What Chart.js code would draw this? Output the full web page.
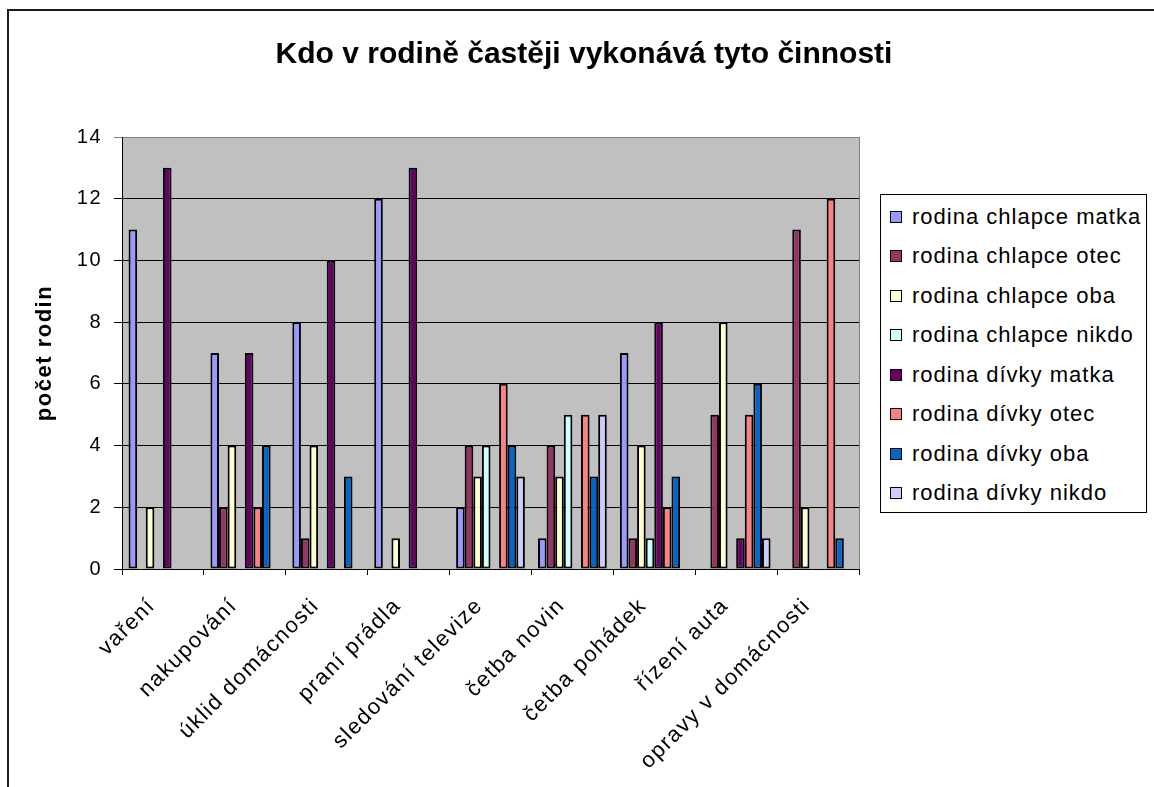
<!DOCTYPE html>
<html lang="cs">
<head>
<meta charset="utf-8">
<title>Kdo v rodině častěji vykonává tyto činnosti</title>
<script src="https://cdn.jsdelivr.net/npm/chart.js@4.4.1/dist/chart.umd.min.js"></script>
<style>
    html, body { margin: 0; padding: 0; background: #fff; overflow: hidden; }
    #wrap { position: relative; width: 1154px; height: 787px; overflow: hidden; font-family: "Liberation Sans", Arial, sans-serif; }
    #frame { position: absolute; left: 7px; top: 9px; width: 1300px; height: 900px; border: 2px solid #1a1a1a; }
    #chart { position: absolute; left: 0; top: 0; }
    #title { position: absolute; left: 0; top: 38px; width: 1168px; text-align: center; font-weight: bold; font-size: 30px; line-height: 30px; color: #000; white-space: nowrap; }
    #legend { position: absolute; left: 880px; top: 194px; width: 267px; height: 319px; box-sizing: border-box; border: 1px solid #000; background: #fff; padding: 2px 0 0 9px; }
    .item { height: 39.5px; display: flex; align-items: center; font-size: 22px; letter-spacing: 1px; color: #000; white-space: nowrap; }
    .swatch { width: 10px; height: 10px; border: 1px solid #000; margin-right: 10px; flex: none; }
</style>
</head>
<body>
<div id="wrap">
    <div id="frame"></div>
    <canvas id="chart" width="1154" height="787"></canvas>
    <div id="title">Kdo v rodině častěji vykonává tyto činnosti</div>
    <div id="legend"></div>
</div>
<script>
// data
const categories = ['vaření', 'nakupování', 'úklid domácnosti', 'praní prádla', 'sledování televize',
    'četba novin', 'četba pohádek', 'řízení auta', 'opravy v domácnosti'];

const seriesLabels = ['rodina chlapce matka', 'rodina chlapce otec', 'rodina chlapce oba', 'rodina chlapce nikdo',
    'rodina dívky matka', 'rodina dívky otec', 'rodina dívky oba', 'rodina dívky nikdo'];
const seriesColors = ['#9999FF', '#993366', '#FFFFCC', '#CCFFFF', '#660066', '#FF8080', '#0066CC', '#CCCCFF'];

const chlapceMatka = [11, 7, 8, 12, 2, 1, 7, 0, 0];
const chlapceOtec  = [0, 2, 1, 0, 4, 4, 1, 5, 11];
const chlapceOba   = [2, 4, 4, 1, 3, 3, 4, 8, 2];
const chlapceNikdo = [0, 0, 0, 0, 4, 5, 1, 0, 0];
const divkyMatka   = [13, 7, 10, 13, 0, 0, 8, 1, 0];
const divkyOtec    = [0, 2, 0, 0, 6, 5, 2, 5, 12];
const divkyOba     = [0, 4, 3, 0, 4, 3, 3, 6, 1];
const divkyNikdo   = [0, 0, 0, 0, 3, 5, 0, 1, 0];

const yMin = 0;
const yMax = 14;
const yStep = 2;
const yTitle = 'počet rodin';

const seriesValues = [chlapceMatka, chlapceOtec, chlapceOba, chlapceNikdo, divkyMatka, divkyOtec, divkyOba, divkyNikdo];

Chart.defaults.font.family = '"Liberation Sans", Arial, sans-serif';
Chart.defaults.color = '#000';

// šedé pozadí a okraj plochy grafu
const plotArea = {
    id: 'plotArea',
    beforeDraw(chart) {
        const { ctx, chartArea: a } = chart;
        // písmo v originále je trochu širší
        ctx.letterSpacing = '1.5px';
        ctx.save();
        ctx.fillStyle = '#C0C0C0';
        ctx.fillRect(a.left, a.top, a.width, a.height);
        ctx.restore();
    },
    beforeDatasetsDraw(chart) {
        const { ctx, chartArea: a } = chart;
        ctx.save();
        ctx.strokeStyle = '#808080';
        ctx.lineWidth = 1;
        ctx.beginPath();
        ctx.moveTo(Math.round(a.right) + 0.5, a.top);
        ctx.lineTo(Math.round(a.right) + 0.5, a.bottom);
        ctx.stroke();
        ctx.restore();
    }
};

const chart = new Chart(document.getElementById('chart'), {
    type: 'bar',
    data: {
        labels: categories,
        datasets: seriesLabels.map((label, i) => ({
            label: label,
            data: seriesValues[i],
            backgroundColor: seriesColors[i],
            borderColor: '#000',
            borderWidth: 2,
            borderSkipped: false,
            categoryPercentage: 0.84,
            barPercentage: 1.0
        }))
    },
    options: {
        responsive: false,
        devicePixelRatio: 1,
        animation: false,
        layout: { padding: { top: 137, right: 295, bottom: 0, left: 0 } },
        plugins: {
            legend: { display: false },
            title: { display: false },
            tooltip: { enabled: false }
        },
        scales: {
            x: {
                offset: true,
                grid: { display: true, drawOnChartArea: false, drawTicks: true, tickLength: 6, color: '#000', offset: true },
                border: { display: true, color: '#000', width: 1 },
                ticks: { autoSkip: false, minRotation: 45, maxRotation: 45, padding: 18, labelOffset: -11, font: { size: 22 }, color: '#000' },
                afterFit: (scale) => { scale.height = 218; }
            },
            y: {
                min: yMin,
                max: yMax,
                ticks: { stepSize: yStep, padding: 12, font: { size: 20 }, color: '#000' },
                grid: {
                    color: (c) => (c.tick && c.tick.value === yMax ? '#808080' : '#000'),
                    lineWidth: 1,
                    tickLength: 8
                },
                border: { display: true, color: '#000', width: 1 },
                title: { display: true, text: yTitle, font: { size: 22, weight: 'bold' }, color: '#000', padding: { top: 32, bottom: 0 } },
                afterFit: (scale) => { scale.width = 122; }
            }
        }
    },
    plugins: [plotArea]
});

// legenda v rámečku
const legendBox = document.getElementById('legend');
chart.data.datasets.forEach(ds => {
    const item = document.createElement('div');
    item.className = 'item';
    item.innerHTML = `<span class="swatch" style="background:${ds.backgroundColor}"></span><span>${ds.label}</span>`;
    legendBox.appendChild(item);
});
</script>
</body>
</html>
